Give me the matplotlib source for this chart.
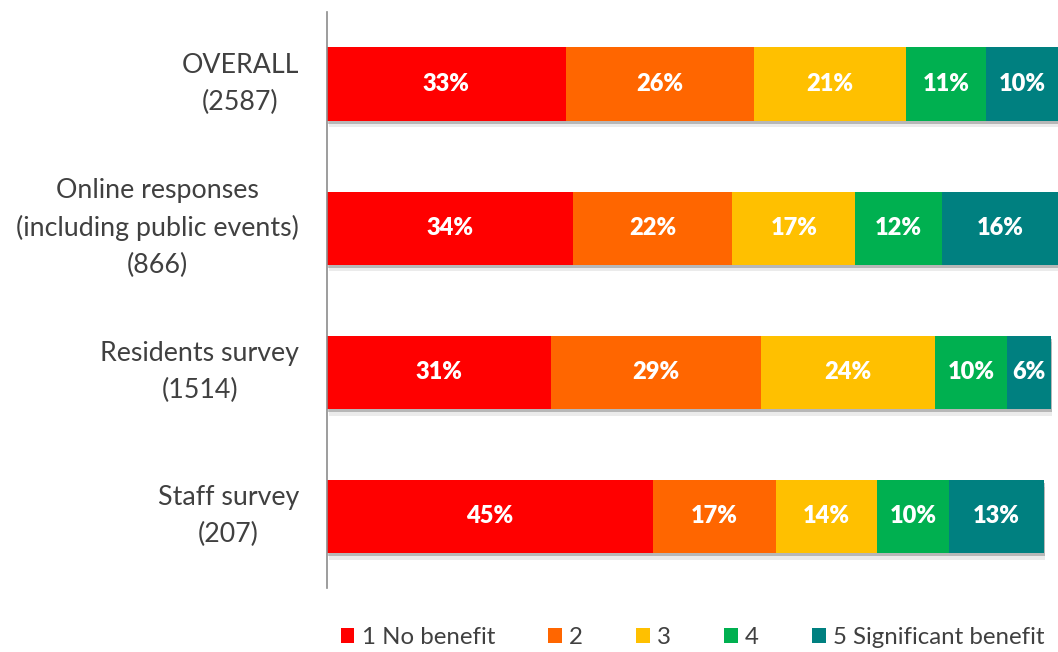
import matplotlib
matplotlib.use("Agg")
import matplotlib.pyplot as plt
import matplotlib.patheffects as pe
import numpy as np

# Survey groups (top to bottom) and share of responses for each score
groups = ["OVERALL\n(2587)",
          "Online responses\n(including public events)\n(866)",
          "Residents survey\n(1514)",
          "Staff survey\n(207)"]
series_names = ["1 No benefit", "2", "3", "4", "5 Significant benefit"]
score1 = [33, 34, 31, 45]
score2 = [26, 22, 29, 17]
score3 = [21, 17, 24, 14]
score4 = [11, 12, 10, 10]
score5 = [10, 16, 6, 13]
colors = ["#FF0000", "#FF6600", "#FFC000", "#00B050", "#008080"]

text_color = "#404040"
plt.rcParams["font.family"] = ["Lato", "DejaVu Sans"]

fig = plt.figure(figsize=(10.58, 6.52), dpi=100)
ax = fig.add_axes([0.309, 0.098, 0.691, 0.8836])

y = np.arange(len(groups))
left = np.zeros(len(groups))
shadow = [pe.SimplePatchShadow(offset=(1.2, -5), shadow_rgbFace="#000000", alpha=0.08),
          pe.SimplePatchShadow(offset=(0.8, -2.6), shadow_rgbFace="#000000", alpha=0.22),
          pe.Normal()]
for vals, name, col in zip([score1, score2, score3, score4, score5], series_names, colors):
    vals = np.array(vals, dtype=float)
    bars = ax.barh(y, vals, left=left, height=0.507, color=col, label=name,
                   edgecolor="none", zorder=2)
    for b in bars:
        b.set_path_effects(shadow)
    ax.bar_label(bars, labels=[f"{int(v)}%" for v in vals], label_type="center",
                 color="white", fontweight="heavy", fontsize=17, zorder=3)
    left += vals

ax.set_xlim(0, 101)
ax.set_ylim(len(groups) - 0.5, -0.5)
ax.set_xticks([])
ax.set_yticks(y)
ax.set_yticklabels(groups, fontsize=19.3, color=text_color, va="center",
                   multialignment="center", linespacing=1.58)
ax.tick_params(axis="y", length=0, pad=20)
for side in ["top", "right", "bottom"]:
    ax.spines[side].set_visible(False)
ax.spines["left"].set_color("#8c8c8c")
ax.spines["left"].set_linewidth(1.2)

leg = ax.legend(loc="center", bbox_to_anchor=(0.5, -0.086), ncol=5, frameon=False,
                fontsize=17.3, handlelength=0.58, handleheight=0.58, handletextpad=0.3,
                columnspacing=2.2, labelcolor=text_color)
for h in leg.legend_handles:
    h.set_path_effects([])

fig.savefig("out.png", dpi=100)
